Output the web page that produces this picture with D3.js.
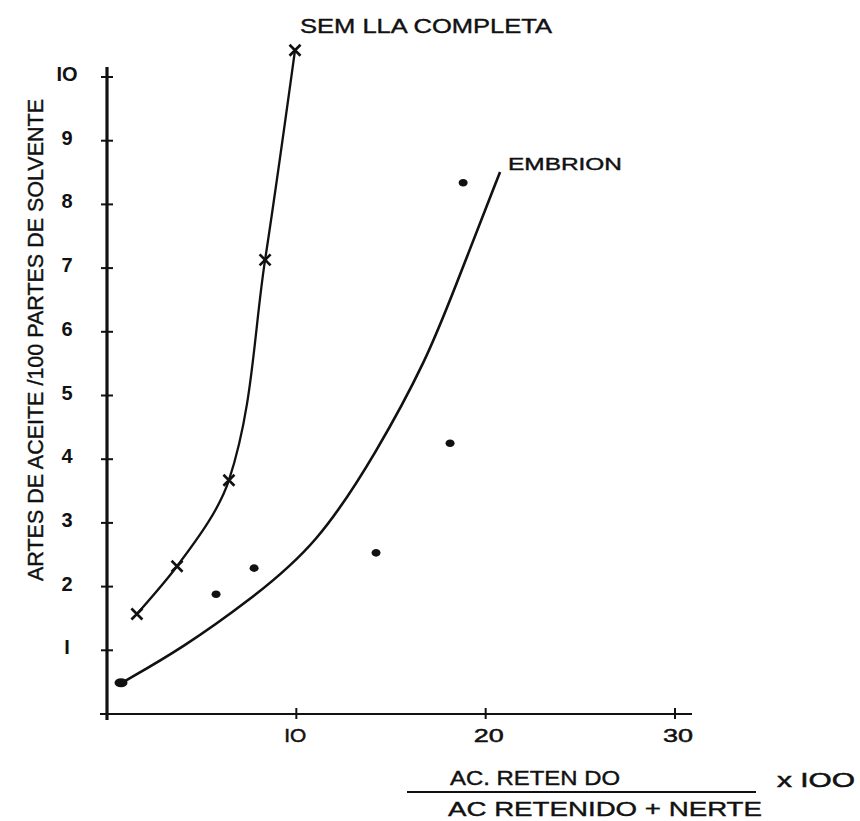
<!DOCTYPE html>
<html>
<head>
<meta charset="utf-8">
<script src="https://cdn.jsdelivr.net/npm/d3@7"></script>
<style>
  html, body { margin: 0; padding: 0; background: #fff; }
  svg { display: block; }
  text { font-family: "Liberation Sans", Arial, sans-serif; fill: #111; }
</style>
</head>
<body>
<svg id="chart" width="860" height="821"></svg>
<script>
// ---- data ----
const xTicks = [10, 20, 30];
const yTicks = [1, 2, 3, 4, 5, 6, 7, 8, 9, 10];
const yTickLabels = ["I", "2", "3", "4", "5", "6", "7", "8", "9", "IO"];
const xTickLabels = ["IO", "20", "30"];

// Semilla completa (x markers, joined by a smooth line)
const semillaX = [1.58, 3.70, 6.44, 8.35, 9.93];
const semillaY = [1.57, 2.32, 3.67, 7.13, 10.42];

// Embrion (dots)
const embrionX = [0.74, 5.76, 7.77, 14.21, 18.12, 18.81];
const embrionY = [0.49, 1.88, 2.29, 2.53, 4.25, 8.34];
// traced fitted curve for embrion
const embrionCurveX = [0.79, 4.01, 7.55, 11.09, 14.31, 16.90, 18.27, 20.76];
const embrionCurveY = [0.49, 1.04, 1.79, 2.65, 4.14, 5.58, 6.61, 8.51];

const yAxisTitle = "ARTES DE ACEITE /100 PARTES DE SOLVENTE";
const xAxisNum = "AC. RETEN DO";
const xAxisDen = "AC  RETENIDO +  NERTE";
const xAxisMult = "x IOO";
const semillaLabel = "SEM LLA  COMPLETA";
const embrionLabel = "EMBRION";

// ---- scales ----
const svg = d3.select("#chart");
const x = d3.scaleLinear().domain([0, 30]).range([107, 675]);
const y = d3.scaleLinear().domain([0, 10]).range([714, 77]);

// ---- axes ----
const ink = "#111";
svg.append("line")
  .attr("x1", x(0)).attr("x2", x(0))
  .attr("y1", y(0) + 6).attr("y2", y(10) - 10)
  .attr("stroke", ink).attr("stroke-width", 3.2);
svg.append("line")
  .attr("x1", x(0) - 7).attr("x2", x(30) + 17)
  .attr("y1", y(0)).attr("y2", y(0))
  .attr("stroke", ink).attr("stroke-width", 2.2);

svg.append("g").selectAll("line").data(yTicks).join("line")
  .attr("x1", x(0) - 6).attr("x2", x(0) + 6)
  .attr("y1", d => y(d)).attr("y2", d => y(d))
  .attr("stroke", ink).attr("stroke-width", 2);
svg.append("line")
  .attr("x1", x(0) - 7).attr("x2", x(0) + 3)
  .attr("y1", y(0)).attr("y2", y(0))
  .attr("stroke", ink).attr("stroke-width", 2);
svg.append("g").selectAll("line").data(xTicks).join("line")
  .attr("x1", d => x(d)).attr("x2", d => x(d))
  .attr("y1", y(0) - 6).attr("y2", y(0) + 5)
  .attr("stroke", ink).attr("stroke-width", 2);

// y tick labels
svg.append("g").selectAll("text").data(yTicks).join("text")
  .attr("x", 67)
  .attr("y", d => y(d) - 3)
  .attr("text-anchor", "middle")
  .attr("dominant-baseline", "central")
  .attr("font-size", 20)
  .attr("font-weight", "bold")
  .text((d, i) => yTickLabels[i]);

// x tick labels
svg.append("g").selectAll("text").data(xTicks).join("text")
  .attr("x", d => x(d) - 12)
  .attr("y", y(0) + 28)
  .attr("font-size", 19)
  .attr("textLength", (d, i) => xTickLabels[i] === "IO" ? 22 : 30)
  .attr("lengthAdjust", "spacingAndGlyphs")
  .attr("stroke", ink).attr("stroke-width", 0.5)
  .text((d, i) => xTickLabels[i]);

// ---- curves ----
const semLine = d3.line().x(d => x(d[0])).y(d => y(d[1])).curve(d3.curveMonotoneY);
svg.append("path")
  .datum(semillaX.map((v, i) => [v, semillaY[i]]))
  .attr("d", semLine)
  .attr("fill", "none").attr("stroke", ink).attr("stroke-width", 2.3);

const embLine = d3.line().x(d => x(d[0])).y(d => y(d[1])).curve(d3.curveBasis);
svg.append("path")
  .datum(embrionCurveX.map((v, i) => [v, embrionCurveY[i]]))
  .attr("d", embLine)
  .attr("fill", "none").attr("stroke", ink).attr("stroke-width", 2.6);

// ---- markers ----
const m = 5.5;
const sg = svg.append("g");
semillaX.forEach((v, i) => {
  const cx = x(v), cy = y(semillaY[i]);
  sg.append("path")
    .attr("d", `M${cx - m},${cy - m}L${cx + m},${cy + m}M${cx + m},${cy - m}L${cx - m},${cy + m}`)
    .attr("stroke", ink).attr("stroke-width", 2.6).attr("fill", "none");
});

svg.append("g").selectAll("ellipse")
  .data(embrionX.map((v, i) => [v, embrionY[i]]))
  .join("ellipse")
  .attr("cx", d => x(d[0])).attr("cy", d => y(d[1]))
  .attr("rx", (d, i) => i === 0 ? 6.5 : 4.5)
  .attr("ry", (d, i) => i === 0 ? 4.5 : 3.8)
  .attr("fill", ink);

// ---- labels ----
svg.append("text")
  .attr("x", 300).attr("y", 33)
  .attr("font-size", 20)
  .attr("textLength", 252).attr("lengthAdjust", "spacingAndGlyphs")
  .attr("stroke", ink).attr("stroke-width", 0.4)
  .text(semillaLabel);

svg.append("text")
  .attr("x", 508).attr("y", 170)
  .attr("font-size", 17)
  .attr("textLength", 114).attr("lengthAdjust", "spacingAndGlyphs")
  .attr("stroke", ink).attr("stroke-width", 0.4)
  .text(embrionLabel);

svg.append("text")
  .attr("transform", "translate(43,340) rotate(-90)")
  .attr("text-anchor", "middle")
  .attr("font-size", 22)
  .attr("textLength", 482).attr("lengthAdjust", "spacingAndGlyphs")
  .attr("stroke", ink).attr("stroke-width", 0.4)
  .text(yAxisTitle);

svg.append("text")
  .attr("x", 450).attr("y", 785)
  .attr("font-size", 20)
  .attr("textLength", 170).attr("lengthAdjust", "spacingAndGlyphs")
  .attr("stroke", ink).attr("stroke-width", 0.4)
  .text(xAxisNum);
svg.append("line")
  .attr("x1", 407).attr("x2", 756)
  .attr("y1", 792).attr("y2", 792)
  .attr("stroke", ink).attr("stroke-width", 1.8);
svg.append("text")
  .attr("x", 448).attr("y", 816)
  .attr("font-size", 20)
  .attr("textLength", 314).attr("lengthAdjust", "spacingAndGlyphs")
  .attr("stroke", ink).attr("stroke-width", 0.4)
  .text(xAxisDen);
svg.append("text")
  .attr("x", 777).attr("y", 787)
  .attr("font-size", 20)
  .attr("textLength", 78).attr("lengthAdjust", "spacingAndGlyphs")
  .attr("stroke", ink).attr("stroke-width", 0.5)
  .text(xAxisMult);
</script>
</body>
</html>
